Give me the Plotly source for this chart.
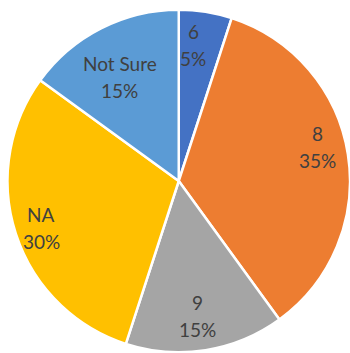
import math
import plotly.graph_objects as go

# Survey responses
categories = ["6", "8", "9", "NA", "Not Sure"]
percentages = [5, 35, 15, 30, 15]

colors = ["#4472C4", "#ED7D31", "#A5A5A5", "#FFC000", "#5B9BD5"]
# placement of each data label: fraction of the radius and angular nudge (deg)
label_radius = [0.80, 0.83, 0.795, 0.85, 0.70]
label_shift = [-3.0, -5.0, 1.4, -0.9, -2.6]

W, H = 350, 353
cx_px, cy_px, r_px = 179, 181, 171.5
line_gap = 27  # vertical distance between the two lines of a label

fig = go.Figure(
    go.Pie(
        labels=categories,
        values=percentages,
        sort=False,
        direction="clockwise",
        rotation=0,
        marker=dict(colors=colors, line=dict(color="white", width=2.5)),
        textinfo="none",
        hoverinfo="label+percent",
        domain=dict(
            x=[(cx_px - r_px) / W, min(1, (cx_px + r_px) / W)],
            y=[max(0, 1 - (cy_px + r_px) / H), 1 - (cy_px - r_px) / H],
        ),
        showlegend=False,
    )
)

# data labels (category on top, percentage below) near each slice's mid-angle
total = sum(percentages)
cum = 0
annotations = []
for cat, val, f, shift in zip(categories, percentages, label_radius, label_shift):
    mid = (cum + val / 2) / total * 2 * math.pi + math.radians(shift)
    cum += val
    x_px = cx_px + f * r_px * math.sin(mid)
    y_px = cy_px - f * r_px * math.cos(mid)
    for text, dy in ((cat, -line_gap / 2), (f"{val}%", line_gap / 2)):
        annotations.append(
            dict(
                x=x_px / W,
                y=1 - (y_px + dy) / H,
                xref="paper",
                yref="paper",
                text=text,
                showarrow=False,
                font=dict(family="Lato", size=19, color="#404040"),
                xanchor="center",
                yanchor="middle",
            )
        )

fig.update_layout(
    width=W,
    height=H,
    margin=dict(l=0, r=0, t=0, b=0),
    paper_bgcolor="white",
    plot_bgcolor="white",
    annotations=annotations,
)

fig.write_html("out.html")
